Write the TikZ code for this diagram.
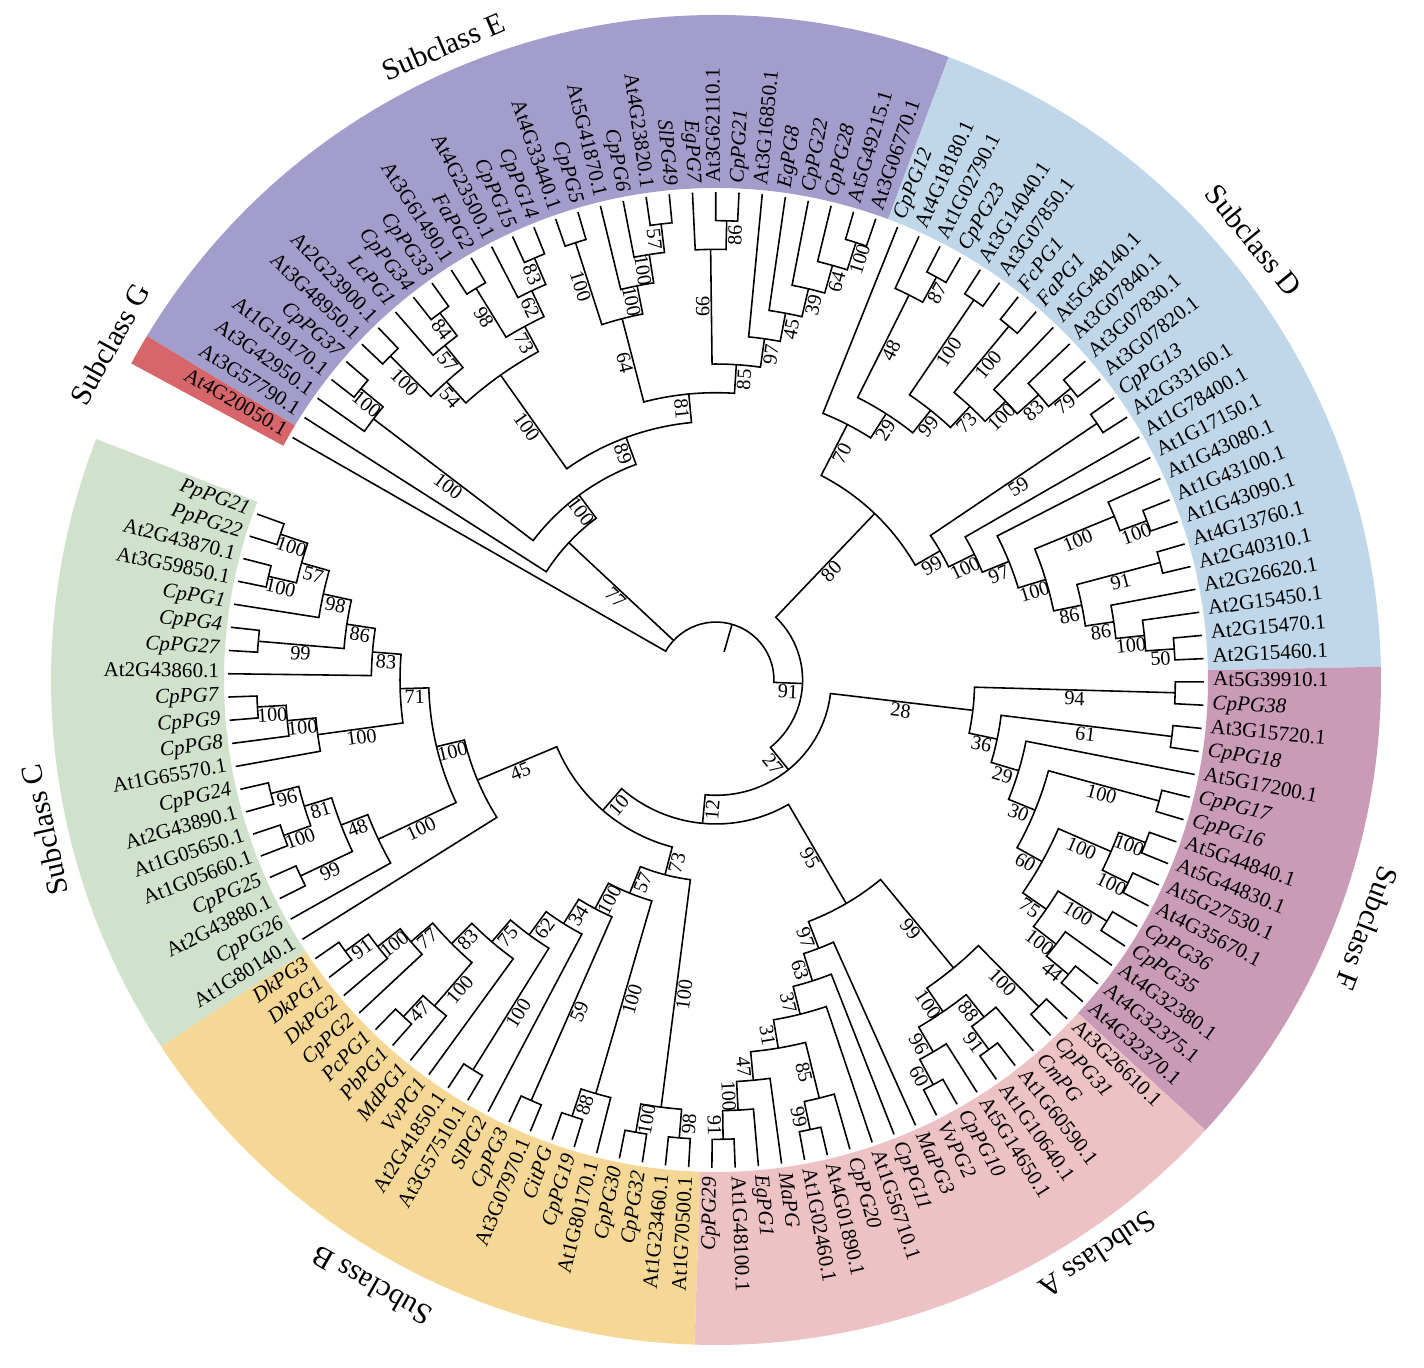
\documentclass[tikz,border=0pt]{standalone}
\usepackage{fontspec}
\setmainfont{Liberation Serif}

\definecolor{subE}{RGB}{163,157,203}
\definecolor{subD}{RGB}{191,215,233}
\definecolor{subF}{RGB}{201,155,182}
\definecolor{subA}{RGB}{237,194,197}
\definecolor{subB}{RGB}{245,216,150}
\definecolor{subC}{RGB}{208,226,204}
\definecolor{subG}{RGB}{215,102,106}

\tikzset{
  branch/.style={line width=0.9pt, line join=miter},
  leaflabel/.style={inner sep=1pt, font=\fontsize{12}{12}\selectfont},
  boot/.style={inner sep=0.8pt, font=\fontsize{11.5}{11.5}\selectfont},
  subclass/.style={inner sep=0pt, font=\fontsize{17}{17}\selectfont},
}

% leaf angle: 150.2 - 2.735 * index, tips at radius 488
\newcommand\leafr{488}
\newcommand\tipnode[2]{%
  \pgfmathsetmacro\tA{150.2-2.735*#1}%
  \expandafter\xdef\csname ang@L#1\endcsname{\tA}%
  \expandafter\xdef\csname rad@L#1\endcsname{\leafr}%
  \expandafter\xdef\csname hgt@L#1\endcsname{0}%
  \expandafter\xdef\csname bs@L#1\endcsname{}%
  \coordinate (L#1) at (\tA:\leafr);
  \pgfmathtruncatemacro\tS{cos(\tA)>=-0.001}%
  \ifnum\tS=1
    \node[leaflabel, anchor=mid west, rotate=\tA] (T#1) at (\tA:495) {#2};
  \else
    \node[leaflabel, anchor=mid east, rotate=\tA+180] (T#1) at (\tA:495) {#2};
  \fi
}

% bootstrap value beside a branch
\newcommand\bootlabel[4]{%
  \pgfmathtruncatemacro\bS{cos(#2)>=0}%
  \ifnum\bS=1
    \node[boot, anchor=north, rotate=#2] (bs-#1) at (#2:#3) {#4};
  \else
    \node[boot, anchor=north, rotate=#2+180] (bs-#1) at (#2:#3) {#4};
  \fi
}
\newcommand\childlabel[2]{%
  \edef\cbs{\csname bs@#1\endcsname}%
  \ifx\cbs\empty\else
    \pgfmathsetmacro\cMr{(#2+\csname rad@#1\endcsname)/2}%
    \edef\cMa{\csname ang@#1\endcsname}%
    \bootlabel{#1}{\cMa}{\cMr}{\cbs}%
  \fi
}

% internal node: name, bootstrap, first child, second child
\newcommand\clade[4]{%
  \edef\cAa{\csname ang@#3\endcsname}%
  \edef\cAb{\csname ang@#4\endcsname}%
  \pgfmathtruncatemacro\cH{max(\csname hgt@#3\endcsname,\csname hgt@#4\endcsname)+1}%
  \pgfmathsetmacro\cR{488-28.67*\cH}%
  \pgfmathsetmacro\cM{(\cAa+\cAb)/2}%
  \expandafter\xdef\csname ang@#1\endcsname{\cM}%
  \expandafter\xdef\csname rad@#1\endcsname{\cR}%
  \expandafter\xdef\csname hgt@#1\endcsname{\cH}%
  \expandafter\xdef\csname bs@#1\endcsname{#2}%
  \coordinate (#1) at (\cM:\cR);
  \coordinate (#3-base) at (\cAa:\cR);
  \coordinate (#4-base) at (\cAb:\cR);
  \draw[branch] (#3) -- (#3-base) arc[start angle=\cAa, end angle=\cAb, radius=\cR] -- (#4);
  \childlabel{#3}{\cR}%
  \childlabel{#4}{\cR}%
}

% root with three children and its stub
\newcommand\rootclade[3]{%
  \edef\cAa{\csname ang@#1\endcsname}%
  \edef\cAm{\csname ang@#2\endcsname}%
  \edef\cAb{\csname ang@#3\endcsname}%
  \pgfmathsetmacro\cR{488-28.67*15}%
  \pgfmathsetmacro\cT{488-28.67*16}%
  \pgfmathsetmacro\cM{(\cAa+\cAb)/2}%
  \coordinate (root) at (\cM:\cR);
  \coordinate (root-tail) at (\cM:\cT);
  \coordinate (#1-base) at (\cAa:\cR);
  \coordinate (#2-base) at (\cAm:\cR);
  \coordinate (#3-base) at (\cAb:\cR);
  \draw[branch] (#1) -- (#1-base) arc[start angle=\cAa, end angle=\cAb, radius=\cR] -- (#3);
  \draw[branch] (#2-base) -- (#2);
  \draw[branch] (root-tail) -- (root);
  \childlabel{#2}{\cR}%
  \childlabel{#3}{\cR}%
}

% coloured band from first to last leaf
\newcommand\band[3]{%
  \pgfmathsetmacro\secA{150.2-2.735*(#1-0.5)}%
  \pgfmathsetmacro\secB{150.2-2.735*(#2+0.5)}%
  \fill[#3] (\secA:492) arc[start angle=\secA, end angle=\secB, radius=492]
    -- (\secB:665) arc[start angle=\secB, end angle=\secA, radius=665] -- cycle;
}

\begin{document}
\begin{tikzpicture}[x=0.02cm, y=0.02cm]
  \useasboundingbox (-716,-687) rectangle (708,680);

  % subclass bands
  \band{0}{0}{subG}
  \band{1}{29}{subE}
  \band{30}{54}{subD}
  \band{55}{70}{subF}
  \band{71}{88}{subA}
  \band{89}{108}{subB}
  \band{109}{128}{subC}

  \node[subclass, rotate=61] (labG) at (151:693) {Subclass G};
  \node[subclass, rotate=23.3] (labE) at (113.3:690) {Subclass E};
  \node[subclass, rotate=-50.7] (labD) at (39.3:695) {Subclass D};
  \node[subclass, rotate=-110.9] (labF) at (-20.9:697) {Subclass F};
  \node[subclass, rotate=-146.4] (labA) at (-56.4:690) {Subclass A};
  \node[subclass, rotate=-209.6] (labB) at (-119.6:697) {Subclass B};
  \node[subclass, rotate=-257.4] (labC) at (-167.4:688) {Subclass C};

  % leaves
  \tipnode{0}{At4G20050.1}
  \tipnode{1}{At3G57790.1}
  \tipnode{2}{At3G42950.1}
  \tipnode{3}{At1G19170.1}
  \tipnode{4}{\textit{CpPG37}}
  \tipnode{5}{At3G48950.1}
  \tipnode{6}{At2G23900.1}
  \tipnode{7}{\textit{LcPG1}}
  \tipnode{8}{\textit{CpPG34}}
  \tipnode{9}{\textit{CpPG33}}
  \tipnode{10}{At3G61490.1}
  \tipnode{11}{\textit{FaPG2}}
  \tipnode{12}{At4G23500.1}
  \tipnode{13}{\textit{CpPG15}}
  \tipnode{14}{\textit{CpPG14}}
  \tipnode{15}{At4G33440.1}
  \tipnode{16}{\textit{CpPG5}}
  \tipnode{17}{At5G41870.1}
  \tipnode{18}{\textit{CpPG6}}
  \tipnode{19}{At4G23820.1}
  \tipnode{20}{\textit{SlPG49}}
  \tipnode{21}{\textit{EgPG7}}
  \tipnode{22}{At3G62110.1}
  \tipnode{23}{\textit{CpPG21}}
  \tipnode{24}{At3G16850.1}
  \tipnode{25}{\textit{EgPG8}}
  \tipnode{26}{\textit{CpPG22}}
  \tipnode{27}{\textit{CpPG28}}
  \tipnode{28}{At5G49215.1}
  \tipnode{29}{At3G06770.1}
  \tipnode{30}{\textit{CpPG12}}
  \tipnode{31}{At4G18180.1}
  \tipnode{32}{At1G02790.1}
  \tipnode{33}{\textit{CpPG23}}
  \tipnode{34}{At3G14040.1}
  \tipnode{35}{At3G07850.1}
  \tipnode{36}{\textit{FcPG1}}
  \tipnode{37}{\textit{FaPG1}}
  \tipnode{38}{At5G48140.1}
  \tipnode{39}{At3G07840.1}
  \tipnode{40}{At3G07830.1}
  \tipnode{41}{At3G07820.1}
  \tipnode{42}{\textit{CpPG13}}
  \tipnode{43}{At2G33160.1}
  \tipnode{44}{At1G78400.1}
  \tipnode{45}{At1G17150.1}
  \tipnode{46}{At1G43080.1}
  \tipnode{47}{At1G43100.1}
  \tipnode{48}{At1G43090.1}
  \tipnode{49}{At4G13760.1}
  \tipnode{50}{At2G40310.1}
  \tipnode{51}{At2G26620.1}
  \tipnode{52}{At2G15450.1}
  \tipnode{53}{At2G15470.1}
  \tipnode{54}{At2G15460.1}
  \tipnode{55}{At5G39910.1}
  \tipnode{56}{\textit{CpPG38}}
  \tipnode{57}{At3G15720.1}
  \tipnode{58}{\textit{CpPG18}}
  \tipnode{59}{At5G17200.1}
  \tipnode{60}{\textit{CpPG17}}
  \tipnode{61}{\textit{CpPG16}}
  \tipnode{62}{At5G44840.1}
  \tipnode{63}{At5G44830.1}
  \tipnode{64}{At5G27530.1}
  \tipnode{65}{At4G35670.1}
  \tipnode{66}{\textit{CpPG36}}
  \tipnode{67}{\textit{CpPG35}}
  \tipnode{68}{At4G32380.1}
  \tipnode{69}{At4G32375.1}
  \tipnode{70}{At4G32370.1}
  \tipnode{71}{At3G26610.1}
  \tipnode{72}{\textit{CpPG31}}
  \tipnode{73}{\textit{CmPG}}
  \tipnode{74}{At1G60590.1}
  \tipnode{75}{At1G10640.1}
  \tipnode{76}{At5G14650.1}
  \tipnode{77}{\textit{CpPG10}}
  \tipnode{78}{\textit{VvPG2}}
  \tipnode{79}{\textit{MaPG3}}
  \tipnode{80}{\textit{CpPG11}}
  \tipnode{81}{At1G56710.1}
  \tipnode{82}{\textit{CpPG20}}
  \tipnode{83}{At4G01890.1}
  \tipnode{84}{At1G02460.1}
  \tipnode{85}{\textit{MaPG}}
  \tipnode{86}{\textit{EgPG1}}
  \tipnode{87}{At1G48100.1}
  \tipnode{88}{\textit{CpPG29}}
  \tipnode{89}{At1G70500.1}
  \tipnode{90}{At1G23460.1}
  \tipnode{91}{\textit{CpPG32}}
  \tipnode{92}{\textit{CpPG30}}
  \tipnode{93}{At1G80170.1}
  \tipnode{94}{\textit{CpPG19}}
  \tipnode{95}{\textit{CitPG}}
  \tipnode{96}{At3G07970.1}
  \tipnode{97}{\textit{CpPG3}}
  \tipnode{98}{\textit{SlPG2}}
  \tipnode{99}{At3G57510.1}
  \tipnode{100}{At2G41850.1}
  \tipnode{101}{\textit{VvPG1}}
  \tipnode{102}{\textit{MdPG1}}
  \tipnode{103}{\textit{PbPG1}}
  \tipnode{104}{\textit{PcPG1}}
  \tipnode{105}{\textit{CpPG2}}
  \tipnode{106}{\textit{DkPG2}}
  \tipnode{107}{\textit{DkPG1}}
  \tipnode{108}{\textit{DkPG3}}
  \tipnode{109}{At1G80140.1}
  \tipnode{110}{\textit{CpPG26}}
  \tipnode{111}{At2G43880.1}
  \tipnode{112}{\textit{CpPG25}}
  \tipnode{113}{At1G05660.1}
  \tipnode{114}{At1G05650.1}
  \tipnode{115}{At2G43890.1}
  \tipnode{116}{\textit{CpPG24}}
  \tipnode{117}{At1G65570.1}
  \tipnode{118}{\textit{CpPG8}}
  \tipnode{119}{\textit{CpPG9}}
  \tipnode{120}{\textit{CpPG7}}
  \tipnode{121}{At2G43860.1}
  \tipnode{122}{\textit{CpPG27}}
  \tipnode{123}{\textit{CpPG4}}
  \tipnode{124}{\textit{CpPG1}}
  \tipnode{125}{At3G59850.1}
  \tipnode{126}{At2G43870.1}
  \tipnode{127}{\textit{PpPG22}}
  \tipnode{128}{\textit{PpPG21}}

  % subclass E
  \clade{e1}{100}{L3}{L4}
  \clade{e2}{100}{L2}{e1}
  \clade{e3}{100}{L5}{L6}
  \clade{e4}{84}{L8}{L9}
  \clade{e5}{57}{L7}{e4}
  \clade{e6}{54}{e3}{e5}
  \clade{e7}{98}{L10}{L11}
  \clade{e8}{83}{L13}{L14}
  \clade{e9}{62}{L12}{e8}
  \clade{e10}{73}{e7}{e9}
  \clade{e11}{100}{e6}{e10}
  \clade{e12}{100}{L15}{L16}
  \clade{e13}{57}{L19}{L20}
  \clade{e14}{100}{L18}{e13}
  \clade{e15}{100}{L17}{e14}
  \clade{e16}{64}{e12}{e15}
  \clade{e17}{86}{L22}{L23}
  \clade{e18}{99}{L21}{e17}
  \clade{e19}{100}{L28}{L29}
  \clade{e20}{64}{L27}{e19}
  \clade{e21}{39}{L26}{e20}
  \clade{e22}{45}{L25}{e21}
  \clade{e23}{97}{L24}{e22}
  \clade{e24}{85}{e18}{e23}
  \clade{e25}{81}{e16}{e24}
  \clade{e26}{89}{e11}{e25}
  \clade{e27}{100}{e2}{e26}
  \clade{e28}{77}{L1}{e27}

  % subclass D
  \clade{d1}{87}{L32}{L33}
  \clade{d2}{48}{L31}{d1}
  \clade{d3}{100}{L34}{L35}
  \clade{d4}{100}{L36}{L37}
  \clade{d5}{79}{L40}{L41}
  \clade{d6}{83}{L39}{d5}
  \clade{d7}{100}{L38}{d6}
  \clade{d8}{73}{d4}{d7}
  \clade{d9}{99}{d3}{d8}
  \clade{d10}{29}{d2}{d9}
  \clade{d11}{70}{L30}{d10}
  \clade{d12}{59}{L42}{L43}
  \clade{d13}{100}{L47}{L48}
  \clade{d14}{100}{L46}{d13}
  \clade{d15}{91}{L49}{L50}
  \clade{d16}{50}{L53}{L54}
  \clade{d17}{100}{L52}{d16}
  \clade{d18}{86}{L51}{d17}
  \clade{d19}{86}{d15}{d18}
  \clade{d20}{100}{d14}{d19}
  \clade{d21}{97}{L45}{d20}
  \clade{d22}{100}{L44}{d21}
  \clade{d23}{99}{d12}{d22}
  \clade{d24}{80}{d11}{d23}

  % subclass F
  \clade{f1}{94}{L55}{L56}
  \clade{f2}{61}{L57}{L58}
  \clade{f3}{100}{L60}{L61}
  \clade{f4}{100}{L62}{L63}
  \clade{f5}{100}{L64}{L65}
  \clade{f6}{100}{f4}{f5}
  \clade{f7}{100}{L66}{L67}
  \clade{f8}{44}{L69}{L70}
  \clade{f9}{100}{L68}{f8}
  \clade{f10}{75}{f7}{f9}
  \clade{f11}{60}{f6}{f10}
  \clade{f12}{30}{f3}{f11}
  \clade{f13}{29}{L59}{f12}
  \clade{f14}{36}{f2}{f13}
  \clade{f15}{28}{f1}{f14}

  % subclass A
  \clade{a1}{100}{L71}{L72}
  \clade{a2}{91}{L74}{L75}
  \clade{a3}{88}{L73}{a2}
  \clade{a4}{60}{L77}{L78}
  \clade{a5}{96}{L76}{a4}
  \clade{a6}{100}{a3}{a5}
  \clade{a7}{99}{a1}{a6}
  \clade{a8}{99}{L83}{L84}
  \clade{a9}{85}{L82}{a8}
  \clade{a10}{91}{L87}{L88}
  \clade{a11}{100}{L86}{a10}
  \clade{a12}{47}{L85}{a11}
  \clade{a13}{31}{a9}{a12}
  \clade{a14}{37}{L81}{a13}
  \clade{a15}{63}{L80}{a14}
  \clade{a16}{97}{L79}{a15}
  \clade{a17}{95}{a7}{a16}

  % subclass B
  \clade{b1}{98}{L89}{L90}
  \clade{b2}{100}{L91}{L92}
  \clade{b3}{100}{b1}{b2}
  \clade{b4}{88}{L94}{L95}
  \clade{b5}{100}{L93}{b4}
  \clade{b6}{59}{L96}{L97}
  \clade{b7}{100}{L99}{L100}
  \clade{b8}{47}{L103}{L104}
  \clade{b9}{100}{L102}{b8}
  \clade{b10}{91}{L107}{L108}
  \clade{b11}{100}{L106}{b10}
  \clade{b12}{77}{L105}{b11}
  \clade{b13}{83}{b9}{b12}
  \clade{b14}{75}{L101}{b13}
  \clade{b15}{62}{b7}{b14}
  \clade{b16}{34}{L98}{b15}
  \clade{b17}{100}{b6}{b16}
  \clade{b18}{57}{b5}{b17}
  \clade{b19}{73}{b3}{b18}

  % subclass C
  \clade{c1}{99}{L111}{L112}
  \clade{c2}{100}{L113}{L114}
  \clade{c3}{96}{L115}{L116}
  \clade{c4}{81}{c2}{c3}
  \clade{c5}{48}{c1}{c4}
  \clade{c6}{100}{L110}{c5}
  \clade{c7}{100}{L119}{L120}
  \clade{c8}{100}{L118}{c7}
  \clade{c9}{100}{L117}{c8}
  \clade{c10}{99}{L122}{L123}
  \clade{c11}{100}{L125}{L126}
  \clade{c12}{100}{L127}{L128}
  \clade{c13}{57}{c11}{c12}
  \clade{c14}{98}{L124}{c13}
  \clade{c15}{86}{c10}{c14}
  \clade{c16}{83}{L121}{c15}
  \clade{c17}{71}{c9}{c16}
  \clade{c18}{100}{c6}{c17}
  \clade{c19}{45}{L109}{c18}

  % backbone
  \clade{v4}{10}{b19}{c19}
  \clade{v3}{12}{a17}{v4}
  \clade{v2}{27}{f15}{v3}
  \clade{v1}{91}{d24}{v2}
  \rootclade{L0}{e28}{v1}
\end{tikzpicture}
\end{document}
